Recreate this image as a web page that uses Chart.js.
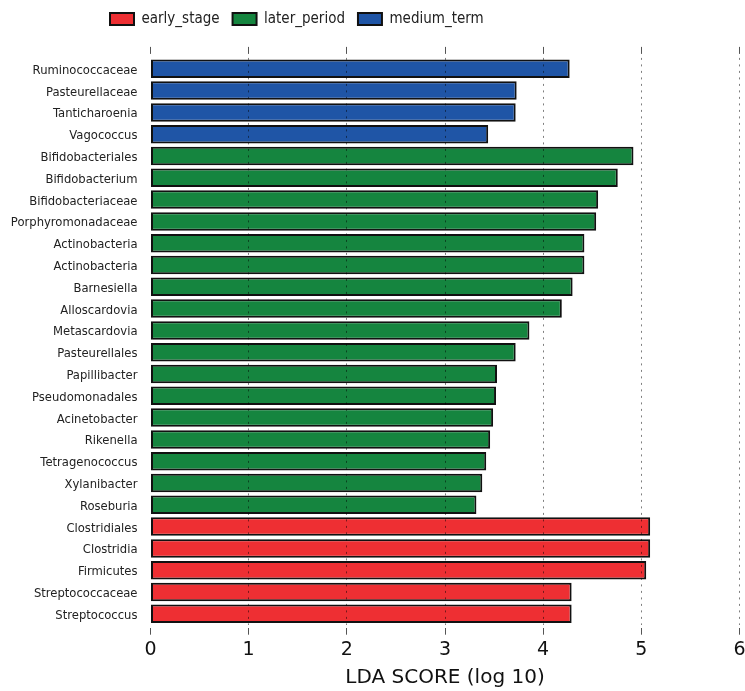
<!DOCTYPE html>
<html>
<head>
<meta charset="utf-8">
<script src="https://cdn.jsdelivr.net/npm/chart.js@4.4.0/dist/chart.umd.min.js"></script>
<style>
  html, body { margin: 0; padding: 0; background: #fff; }
  #wrap { width: 745px; height: 691px; position: relative; }
</style>
</head>
<body>
<div id="wrap"><canvas id="lda"></canvas></div>
<script>
// taxa, top to bottom as in the figure
const taxa = [
  "Ruminococcaceae", "Pasteurellaceae", "Tanticharoenia", "Vagococcus",
  "Bifidobacteriales", "Bifidobacterium", "Bifidobacteriaceae", "Porphyromonadaceae",
  "Actinobacteria", "Actinobacteria", "Barnesiella", "Alloscardovia",
  "Metascardovia", "Pasteurellales", "Papillibacter", "Pseudomonadales",
  "Acinetobacter", "Rikenella", "Tetragenococcus", "Xylanibacter", "Roseburia",
  "Clostridiales", "Clostridia", "Firmicutes", "Streptococcaceae", "Streptococcus"
];
const ldaScores = [
  4.27, 3.73, 3.72, 3.44,
  4.92, 4.76, 4.56, 4.54,
  4.42, 4.42, 4.30, 4.19,
  3.86, 3.72, 3.53, 3.52,
  3.49, 3.46, 3.42, 3.38, 3.32,
  5.09, 5.09, 5.05, 4.29, 4.29
];
const taxaGroup = [
  "medium_term", "medium_term", "medium_term", "medium_term",
  "later_period", "later_period", "later_period", "later_period",
  "later_period", "later_period", "later_period", "later_period",
  "later_period", "later_period", "later_period", "later_period",
  "later_period", "later_period", "later_period", "later_period", "later_period",
  "early_stage", "early_stage", "early_stage", "early_stage", "early_stage"
];
const groupNames = ["early_stage", "later_period", "medium_term"];
const groupColors = ["#ee2f33", "#15853f", "#1f55a6"];
const xTicks = [0, 1, 2, 3, 4, 5, 6];

// one dataset per group, null where the taxon belongs elsewhere
const datasets = groupNames.map((g, i) => ({
  label: g,
  data: ldaScores.map((v, k) => (taxaGroup[k] === g ? v : null)),
  backgroundColor: groupColors[i],
  borderColor: "#111",
  borderWidth: 2,
  borderSkipped: false,
  grouped: false,
  barPercentage: 0.85,
  categoryPercentage: 1,
  xAxisID: "x",
  yAxisID: "y"
}));

// the legend sits left of centre in the figure, nudge it there
const legendNudge = {
  id: "legendNudge",
  beforeDraw(chart) {
    const lg = chart.legend;
    if (!lg) return;
    lg.left = 97;
    lg.top = -1.5;
  }
};

const tickMarks = { color: "#555" };

new Chart(document.getElementById("lda"), {
  type: "bar",
  data: { labels: taxa, datasets },
  plugins: [legendNudge],
  options: {
    indexAxis: "y",
    responsive: true,
    maintainAspectRatio: false,
    animation: false,
    layout: { padding: { left: 0, right: 5.5, top: 0, bottom: 0 } },
    plugins: {
      tooltip: { enabled: false },
      legend: {
        position: "top",
        align: "start",
        labels: {
          boxWidth: 24,
          boxHeight: 12,
          padding: 13,
          color: "#222",
          font: { family: "'DejaVu Sans Condensed', 'DejaVu Sans'", size: 15 }
        }
      }
    },
    scales: {
      x: {
        type: "linear",
        position: "bottom",
        min: 0,
        max: 6,
        afterBuildTicks: s => { s.ticks = xTicks.map(v => ({ value: v })); },
        afterFit: s => { s.height = 66.3; s.paddingLeft = 0; s.paddingRight = 0; },
        border: { display: false, dash: [2, 4.5] },
        grid: {
          z: 1,
          color: c => (c.tick && c.tick.value === 0 ? "rgba(0,0,0,0)" : "rgba(0,0,0,0.5)"),
          lineWidth: 1,
          tickLength: 10,
          tickColor: tickMarks.color,
          tickBorderDash: [0, 3, 7, 20]
        },
        ticks: {
          color: "#111",
          padding: 4,
          font: { family: "'DejaVu Sans'", size: 19 }
        },
        title: {
          display: true,
          text: "LDA SCORE (log 10)",
          color: "#111",
          padding: { top: 0, bottom: 1 },
          font: { family: "'DejaVu Sans'", size: 20 }
        }
      },
      x2: {
        type: "linear",
        axis: "x",
        position: "top",
        min: 0,
        max: 6,
        afterBuildTicks: s => { s.ticks = xTicks.map(v => ({ value: v })); },
        afterFit: s => { s.height = 19.9; s.paddingLeft = 0; s.paddingRight = 0; },
        border: { display: false },
        grid: {
          drawOnChartArea: false,
          tickLength: 11,
          tickColor: tickMarks.color,
          tickBorderDash: [7, 20]
        },
        ticks: { display: false }
      },
      y: {
        type: "category",
        position: "left",
        afterFit: s => { s.width = 150.5; s.paddingTop = 0; s.paddingBottom = 0; },
        border: { display: false },
        grid: { display: false, drawTicks: false },
        ticks: {
          color: "#222",
          padding: 13,
          labelOffset: 2,
          autoSkip: false,
          font: { family: "'DejaVu Sans'", size: 11.6 }
        }
      }
    }
  }
});
</script>
</body>
</html>
